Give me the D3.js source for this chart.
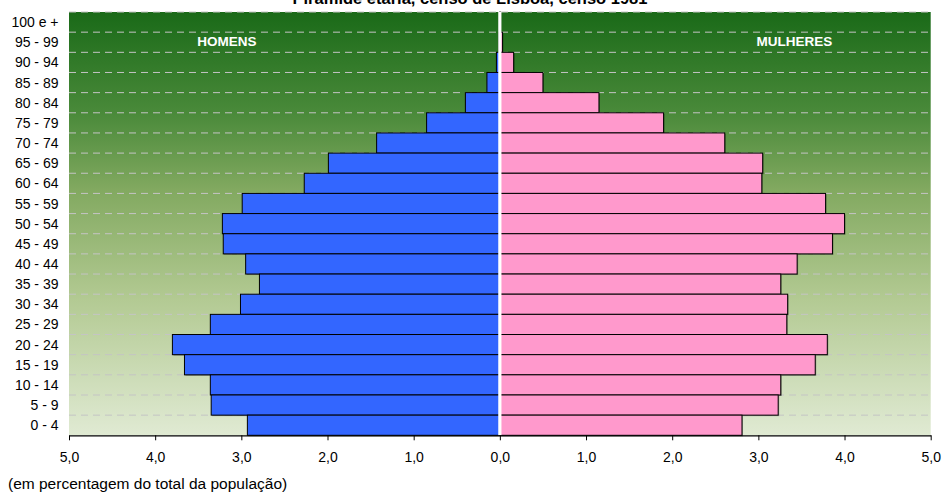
<!DOCTYPE html>
<html>
<head>
<meta charset="utf-8">
<script src="https://cdn.jsdelivr.net/npm/d3@7"></script>
<style>
  html, body { margin: 0; padding: 0; background: #ffffff; }
  svg { display: block; font-family: "Liberation Sans", Arial, sans-serif; }
</style>
</head>
<body>
<svg id="chart" width="943" height="494"></svg>
<script>
// Age groups, top to bottom
const ageGroups = ["100 e +", "95 - 99", "90 - 94", "85 - 89", "80 - 84", "75 - 79", "70 - 74",
  "65 - 69", "60 - 64", "55 - 59", "50 - 54", "45 - 49", "40 - 44", "35 - 39", "30 - 34",
  "25 - 29", "20 - 24", "15 - 19", "10 - 14", "5 - 9", "0 - 4"];

// Share of the total population (%), same order as ageGroups
const homens = [0.00, 0.01, 0.04, 0.15, 0.40, 0.85, 1.43, 1.99, 2.27, 2.99, 3.22, 3.21, 2.95,
  2.79, 3.01, 3.36, 3.80, 3.66, 3.36, 3.35, 2.93];
const mulheres = [0.005, 0.03, 0.16, 0.50, 1.15, 1.90, 2.61, 3.05, 3.04, 3.78, 4.00, 3.86, 3.45,
  3.26, 3.34, 3.33, 3.80, 3.66, 3.26, 3.23, 2.81];

const tickValues = [-5, -4, -3, -2, -1, 0, 1, 2, 3, 4, 5];

const titleText = "Pirâmide etária, censo de Lisboa, censo 1981";
const footnote = "(em percentagem do total da população)";

const svg = d3.select("#chart");
const plot = { left: 69, right: 930.7, top: 12, bottom: 435.3 };

const x = d3.scaleLinear().domain([-5, 5]).range([plot.left, plot.right]);
const y = d3.scaleBand().domain(ageGroups).range([plot.top, plot.bottom]).padding(0);
const x0 = x(0);

const ptLocale = d3.formatLocale({ decimal: ",", thousands: ".", grouping: [3], currency: ["", " €"] });
const fmt = ptLocale.format(".1f");

// Background gradient
const defs = svg.append("defs");
const grad = defs.append("linearGradient").attr("id", "bg")
  .attr("x1", 0).attr("y1", 0).attr("x2", 0).attr("y2", 1);
[[0, "#1a6a18"], [0.24, "#4a8a3a"], [0.42, "#82a960"], [0.68, "#b3ca93"], [1, "#e0ead3"]]
  .forEach(([o, c]) => grad.append("stop").attr("offset", o).attr("stop-color", c));

svg.append("rect")
  .attr("x", plot.left).attr("y", plot.top)
  .attr("width", plot.right - plot.left).attr("height", plot.bottom - plot.top)
  .attr("fill", "url(#bg)");

// Dashed gridlines at each band boundary
const boundaries = ageGroups.map(g => y(g));
svg.append("g").selectAll("line").data(boundaries).join("line")
  .attr("x1", plot.left).attr("x2", plot.right)
  .attr("y1", d => d).attr("y2", d => d)
  .attr("stroke", "#c4c4c4").attr("stroke-width", 1)
  .attr("stroke-dasharray", "7,5");

// Bars
const rows = ageGroups.map((g, i) => ({ g, m: homens[i], f: mulheres[i] }));
const bars = svg.append("g");

// soft drop shadow behind each bar
bars.selectAll("rect.sm").data(rows.filter(d => d.m > 0)).join("rect")
  .attr("class", "sm")
  .attr("x", d => x(-d.m) + 1).attr("y", d => y(d.g) + 1)
  .attr("width", d => x0 - x(-d.m)).attr("height", y.bandwidth())
  .attr("fill", "rgba(0,0,0,0.3)");
bars.selectAll("rect.sf").data(rows.filter(d => d.f > 0)).join("rect")
  .attr("class", "sf")
  .attr("x", x0 + 1).attr("y", d => y(d.g) + 1)
  .attr("width", d => x(d.f) - x0).attr("height", y.bandwidth())
  .attr("fill", "rgba(0,0,0,0.3)");

bars.selectAll("rect.m").data(rows.filter(d => d.m > 0)).join("rect")
  .attr("class", "m")
  .attr("x", d => x(-d.m)).attr("y", d => y(d.g))
  .attr("width", d => x0 - x(-d.m)).attr("height", y.bandwidth())
  .attr("fill", "#3366ff").attr("stroke", "#000").attr("stroke-width", 1);
bars.selectAll("rect.f").data(rows.filter(d => d.f > 0)).join("rect")
  .attr("class", "f")
  .attr("x", x0).attr("y", d => y(d.g))
  .attr("width", d => x(d.f) - x0).attr("height", y.bandwidth())
  .attr("fill", "#ff99cc").attr("stroke", "#000").attr("stroke-width", 1);

// White divider at zero
svg.append("line")
  .attr("x1", x0).attr("x2", x0)
  .attr("y1", plot.top).attr("y2", plot.bottom)
  .attr("stroke", "#ffffff").attr("stroke-width", 3.2);

// Bottom axis
const axis = d3.axisBottom(x)
  .tickValues(tickValues)
  .tickFormat(d => fmt(Math.abs(d)))
  .tickSizeInner(5).tickSizeOuter(0).tickPadding(12);
const gx = svg.append("g").attr("transform", `translate(0,${plot.bottom})`).call(axis);
gx.select(".domain").attr("stroke", "#000").attr("stroke-width", 1.2);
gx.selectAll(".tick line").attr("stroke", "#000");
gx.selectAll(".tick text").attr("font-size", 14).attr("fill", "#000")
  .attr("font-family", "'Liberation Sans', Arial, sans-serif");

// Age group labels
svg.append("g").selectAll("text").data(ageGroups).join("text")
  .attr("x", 58.5).attr("y", d => y(d) + y.bandwidth() / 2)
  .attr("dy", "0.36em").attr("text-anchor", "end")
  .attr("font-size", 14).attr("fill", "#000")
  .text(d => d);

// Sex labels
svg.append("text").attr("x", 227).attr("y", 46).attr("text-anchor", "middle")
  .attr("font-size", 13.5).attr("font-weight", "bold").attr("fill", "#fff").text("HOMENS");
svg.append("text").attr("x", 794.5).attr("y", 46).attr("text-anchor", "middle")
  .attr("font-size", 13.5).attr("font-weight", "bold").attr("fill", "#fff").text("MULHERES");

// Title
svg.append("text").attr("x", 470).attr("y", 3.5).attr("text-anchor", "middle")
  .attr("font-size", 16.5).attr("font-weight", "bold").attr("fill", "#000").text(titleText);

// Footnote
svg.append("text").attr("x", 8).attr("y", 489)
  .attr("font-size", 15.5).attr("fill", "#000").text(footnote);
</script>
</body>
</html>
